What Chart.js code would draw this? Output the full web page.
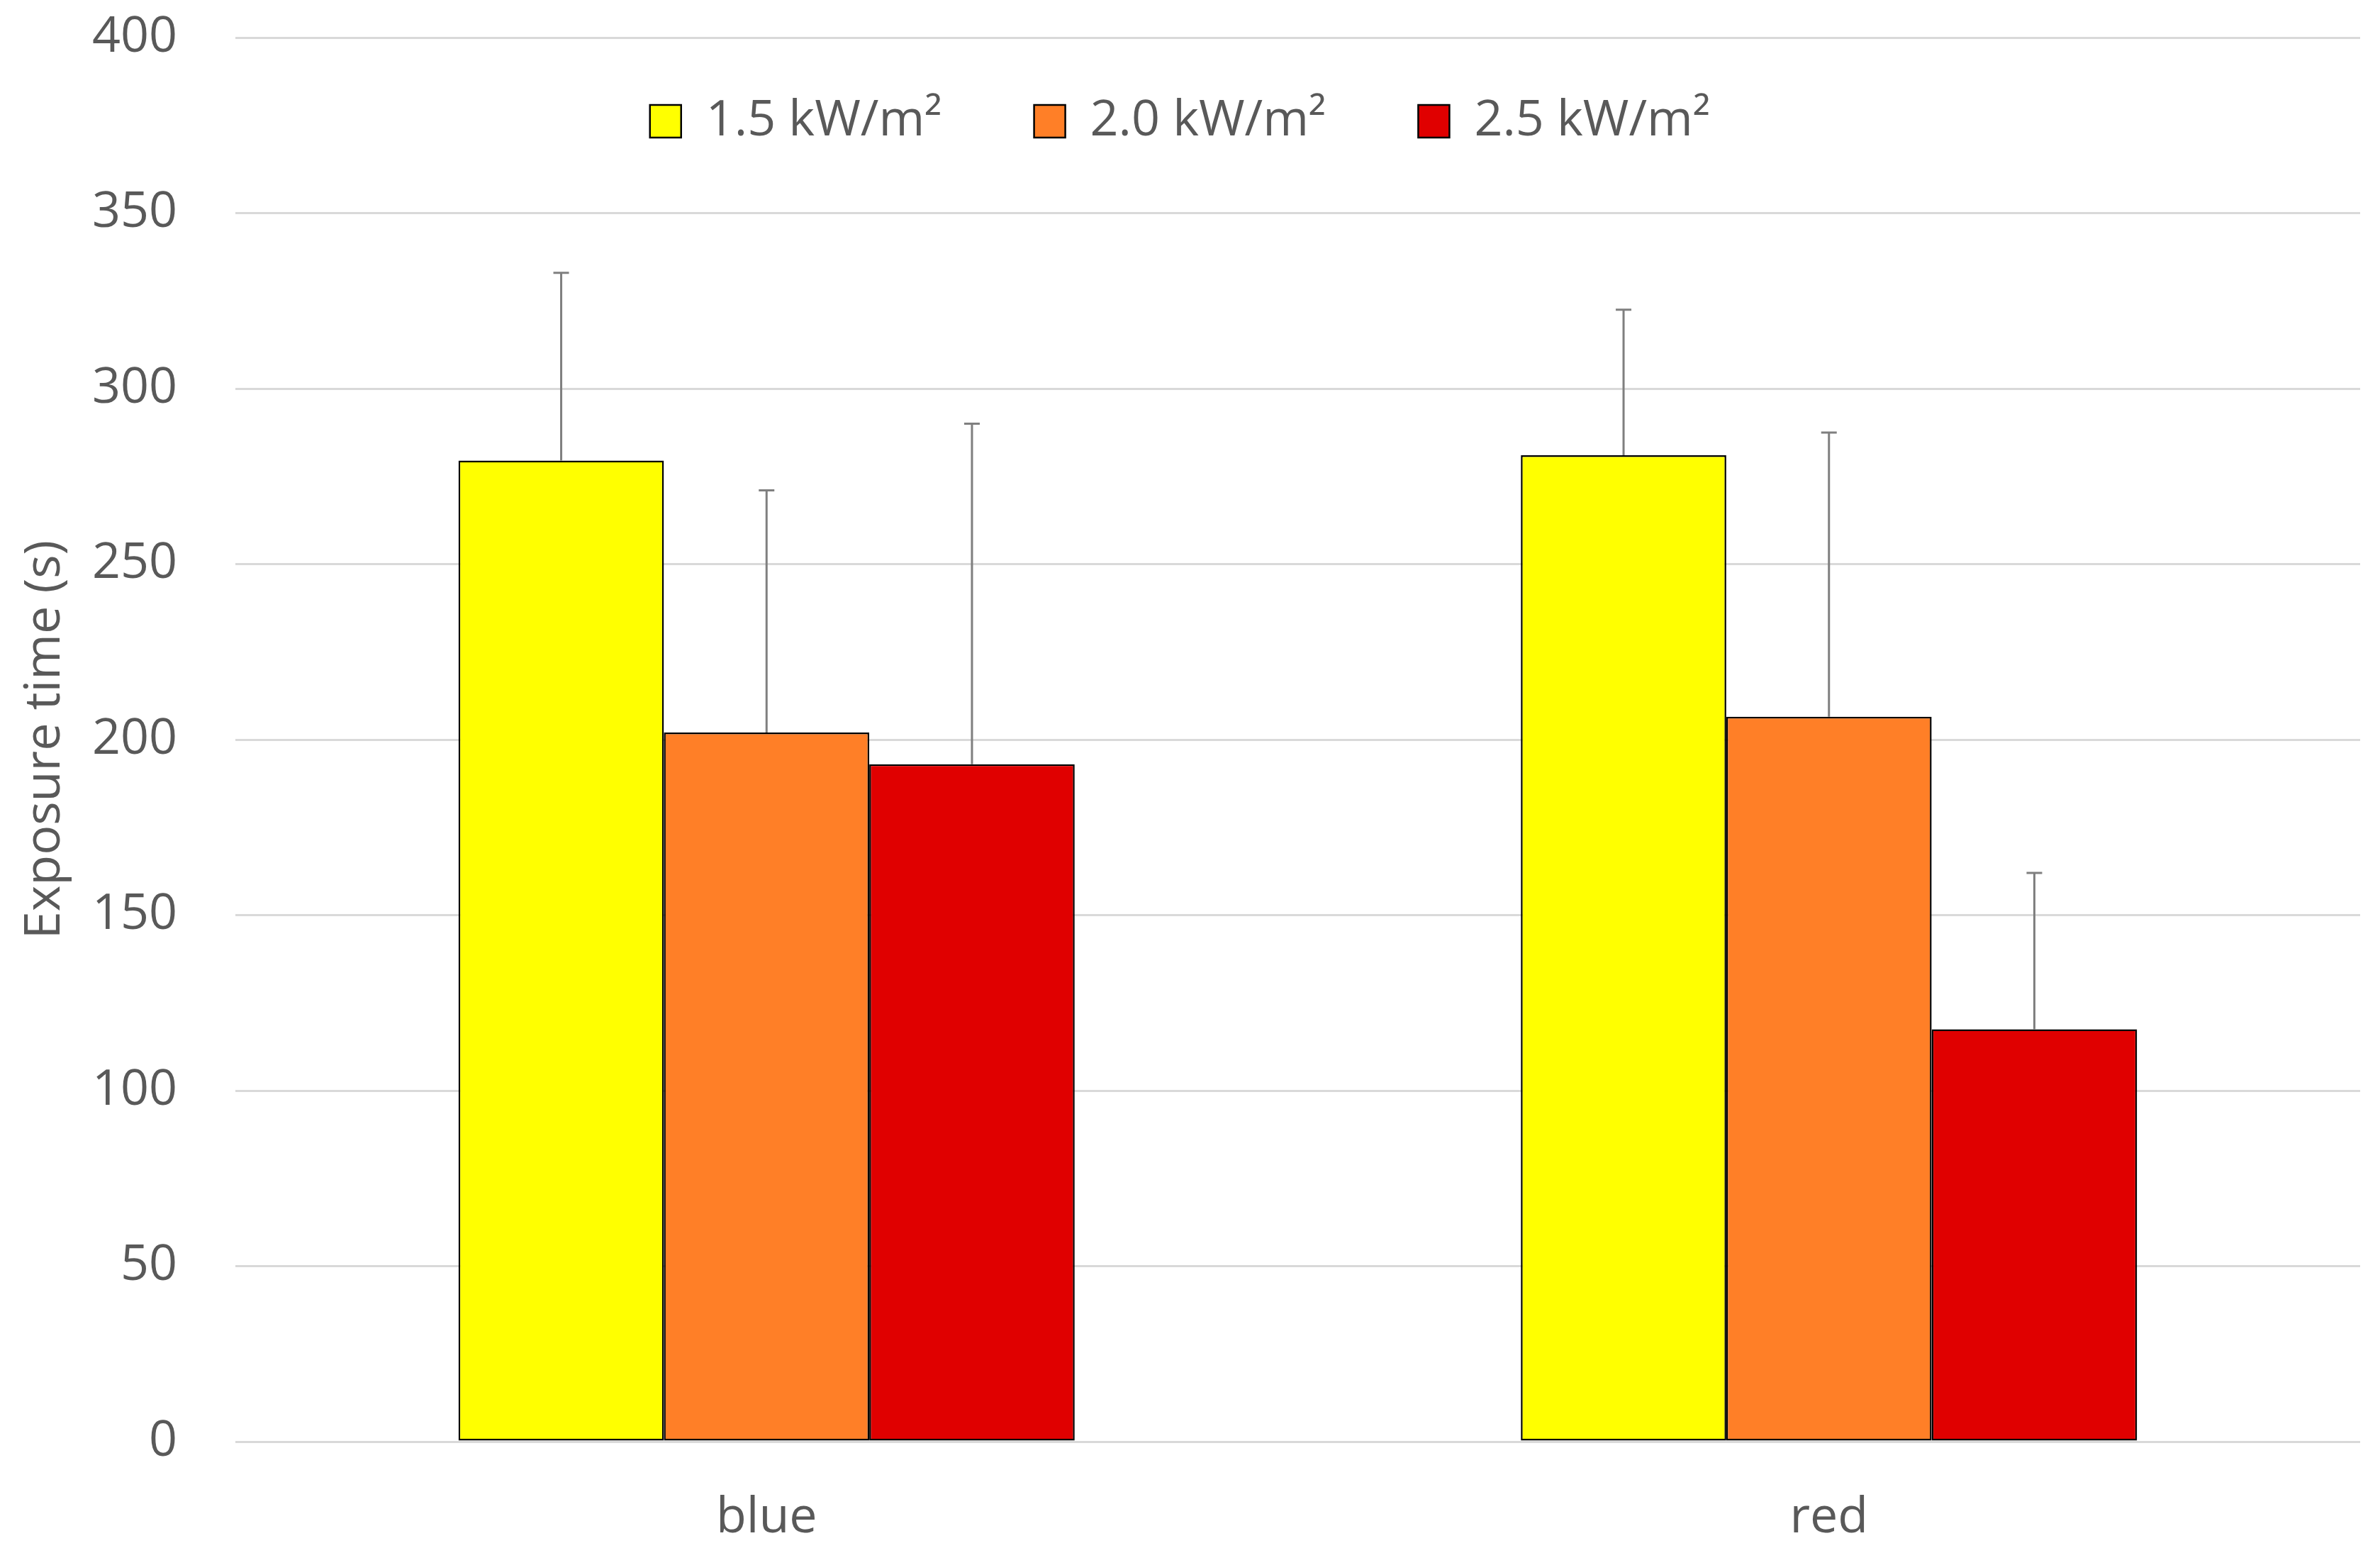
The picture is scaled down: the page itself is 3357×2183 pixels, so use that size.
<!DOCTYPE html>
<html>
<head>
<meta charset="utf-8">
<title>Exposure time</title>
<script src="https://cdn.jsdelivr.net/npm/chart.js"></script>
<style>
  html, body { margin: 0; padding: 0; background: #fff; }
  #wrap { width: 3357px; height: 2183px; }
</style>
</head>
<body>
<div id="wrap"><canvas id="chart" width="3357" height="2183"></canvas></div>
<script>
// categories and series
const categories = ['blue', 'red'];
const seriesLabels = ['1.5 kW/m²', '2.0 kW/m²', '2.5 kW/m²'];
const seriesColors = ['#ffff00', '#ff7f27', '#e00000'];

const values15 = [279.5, 281];
const values20 = [202, 206.5];
const values25 = [193, 117.5];

// upper error (only the + side is drawn)
const err15 = [53.5, 41.5];
const err20 = [69, 81];
const err25 = [97, 44.5];

const yMin = 0;
const yMax = 400;
const yStep = 50;

const textColor = '#595959';
const fontFamily = '"Open Sans", sans-serif';

const allValues = [values15, values20, values25];
const allErrors = [err15, err20, err25];

const datasets = seriesLabels.map((label, i) => ({
  label: label,
  data: allValues[i],
  errorPlus: allErrors[i],
  backgroundColor: seriesColors[i],
  borderColor: '#000',
  borderWidth: 2.5,
  borderSkipped: false,
  categoryPercentage: 0.58,
  barPercentage: 1.0
}));

// draws the vertical error bars from the data through the y scale
const errorBars = {
  id: 'errorBars',
  afterDatasetsDraw(chart) {
    const ctx = chart.ctx;
    const y = chart.scales.y;
    chart.data.datasets.forEach((ds, i) => {
      const meta = chart.getDatasetMeta(i);
      meta.data.forEach((bar, j) => {
        const top = y.getPixelForValue(ds.data[j] + ds.errorPlus[j]);
        ctx.save();
        ctx.strokeStyle = '#7f7f7f';
        ctx.lineWidth = 3;
        ctx.beginPath();
        ctx.moveTo(bar.x, bar.y);
        ctx.lineTo(bar.x, top);
        ctx.moveTo(bar.x - 11, top);
        ctx.lineTo(bar.x + 11, top);
        ctx.stroke();
        ctx.restore();
      });
    });
  }
};

// keep the legend inside the plot area, like the original
const legendInside = {
  id: 'legendInside',
  beforeInit(chart) {
    const lg = chart.legend;
    const fit = lg.fit;
    lg.fit = function () { fit.call(this); this.height = 0; };
  },
  afterLayout(chart) {
    chart.legend.top = 6;
    chart.legend.bottom = 300;
    chart.legend.height = 294;
  }
};

new Chart(document.getElementById('chart'), {
  type: 'bar',
  data: { labels: categories, datasets: datasets },
  plugins: [legendInside, errorBars],
  options: {
    responsive: false,
    devicePixelRatio: 1,
    animation: false,
    layout: { padding: { left: 0, right: 28, top: 53, bottom: 0 } },
    plugins: {
      tooltip: { enabled: false },
      legend: {
        display: true,
        position: 'top',
        labels: {
          color: textColor,
          font: { family: fontFamily, size: 70 },
          boxWidth: 44,
          boxHeight: 46,
          padding: 130
        }
      }
    },
    scales: {
      x: {
        grid: { display: true, drawOnChartArea: false, drawTicks: true, tickLength: 66, tickColor: 'rgba(0,0,0,0)' },
        border: { display: false },
        ticks: {
          color: textColor,
          padding: 0,
          font: { family: fontFamily, size: 70 }
        }
      },
      y: {
        min: yMin,
        max: yMax,
        afterFit(scale) { scale.width = 332; },
        grid: { color: '#d9d9d9', lineWidth: 3, drawTicks: true, tickLength: 76, tickColor: 'rgba(0,0,0,0)' },
        border: { display: false },
        ticks: {
          stepSize: yStep,
          color: textColor,
          padding: 6,
          font: { family: fontFamily, size: 70 }
        },
        title: {
          display: true,
          text: 'Exposure time (s)',
          color: textColor,
          padding: { top: 22, bottom: 0 },
          font: { family: fontFamily, size: 70 }
        }
      }
    }
  }
});
</script>
</body>
</html>
